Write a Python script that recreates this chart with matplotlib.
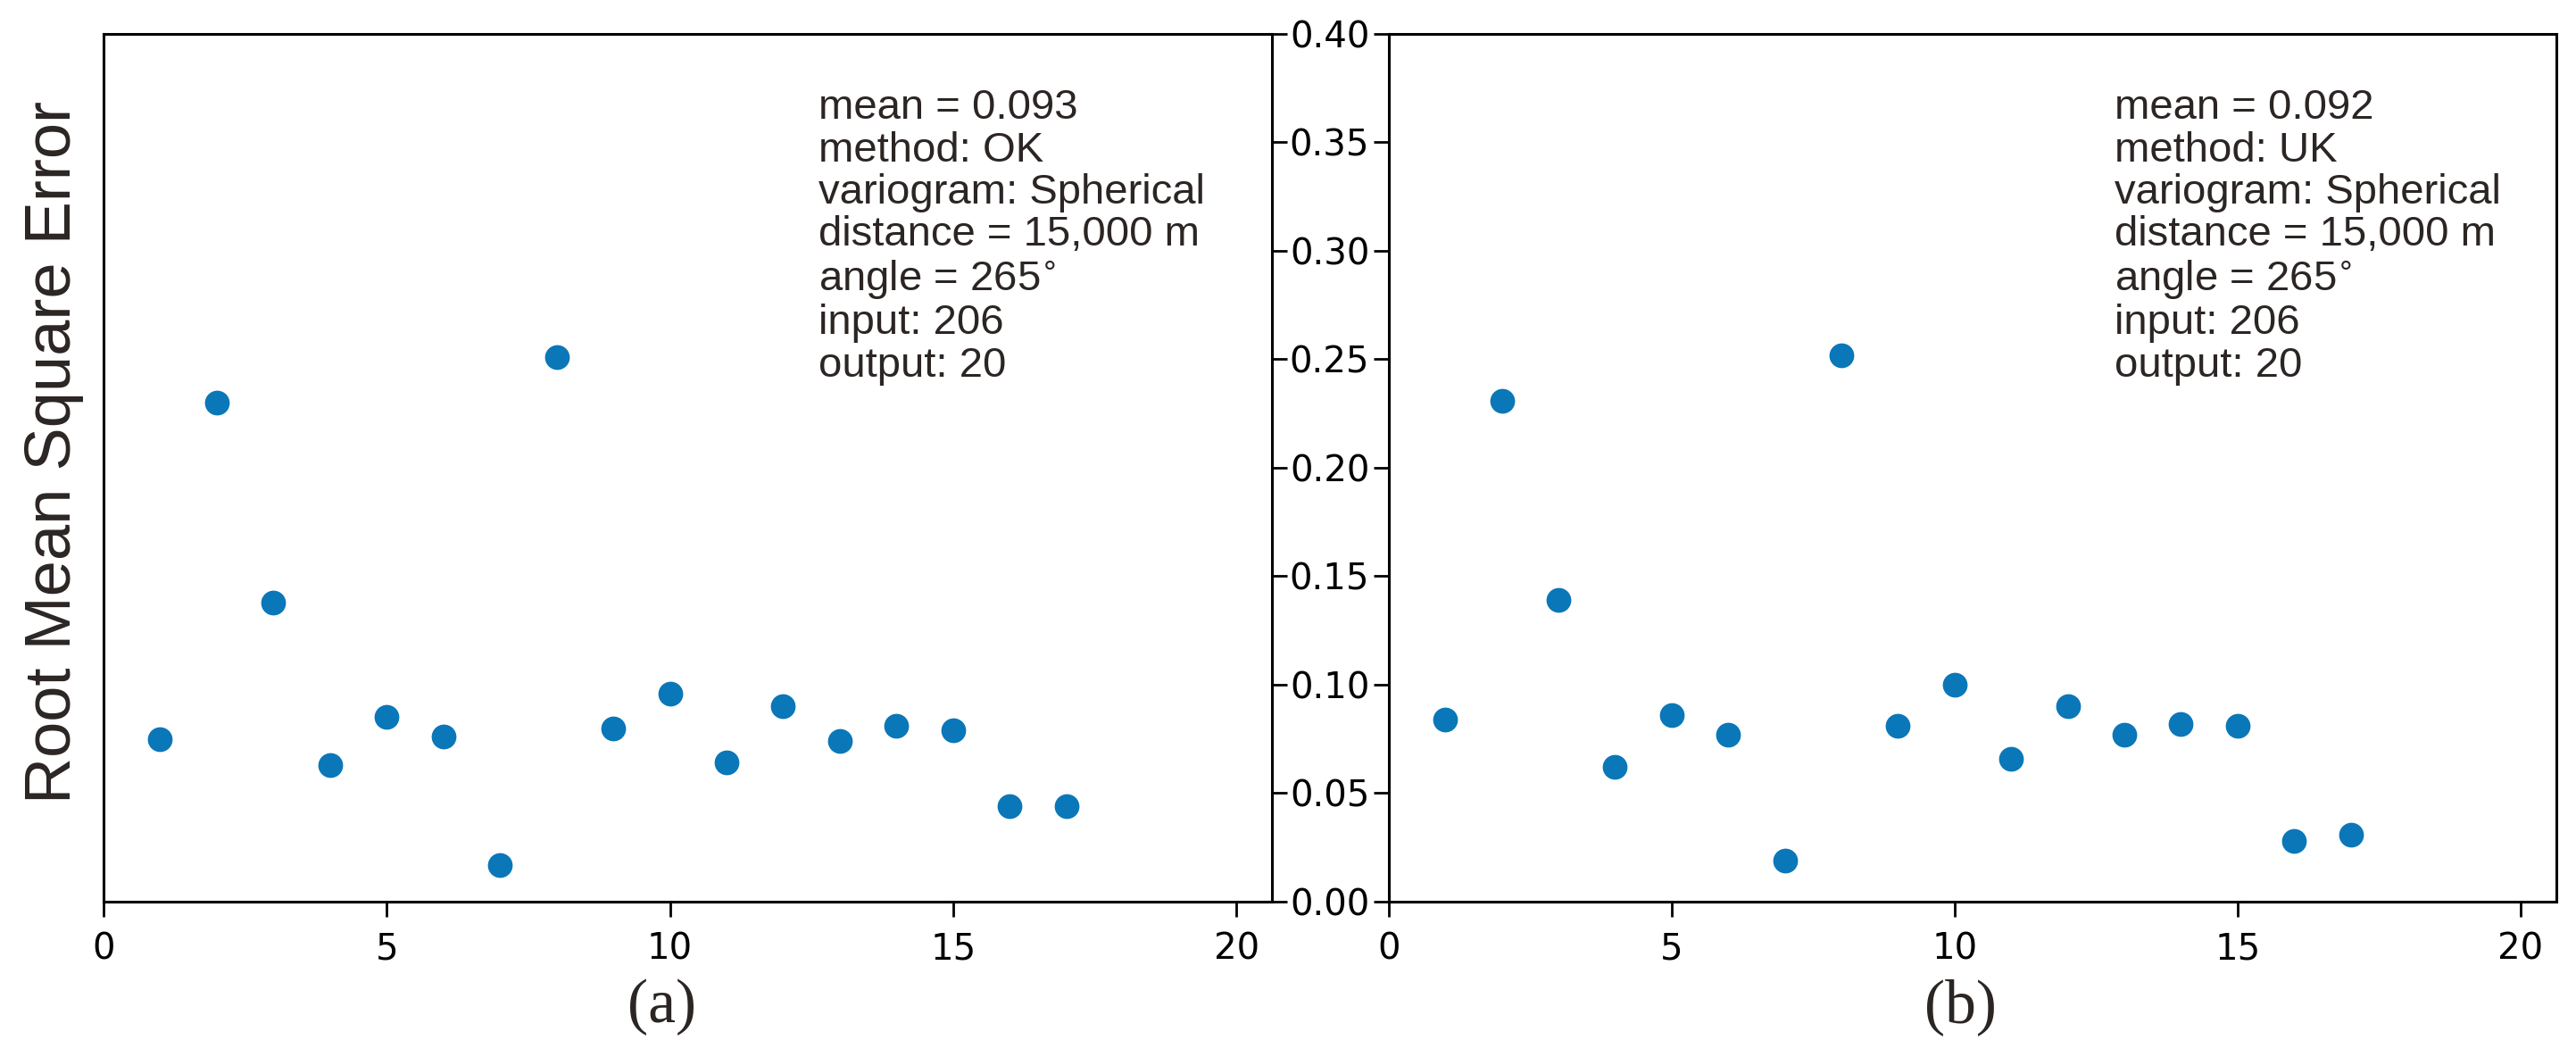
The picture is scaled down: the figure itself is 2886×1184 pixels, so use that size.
import matplotlib
matplotlib.use('Agg')
import matplotlib.pyplot as plt

# ---------------------------- data ----------------------------
sample_ids = [1, 2, 3, 4, 5, 6, 7, 8, 9, 10, 11, 12, 13, 14, 15, 16, 17]

rmse_ok = [0.075, 0.230, 0.138, 0.063, 0.085, 0.076, 0.017, 0.251, 0.080, 0.096,
           0.064, 0.090, 0.074, 0.081, 0.079, 0.044, 0.044]
rmse_uk = [0.084, 0.231, 0.139, 0.062, 0.086, 0.077, 0.019, 0.252, 0.081, 0.100,
           0.066, 0.090, 0.077, 0.082, 0.081, 0.028, 0.031]

info_ok = ['mean = 0.093', 'method: OK', 'variogram: Spherical',
           'distance = 15,000 m', 'angle = 265$^{\\circ}$', 'input: 206', 'output: 20']
info_uk = ['mean = 0.092', 'method: UK', 'variogram: Spherical',
           'distance = 15,000 m', 'angle = 265$^{\\circ}$', 'input: 206', 'output: 20']

x_ticks = [0, 5, 10, 15, 20]
y_ticks = [0.00, 0.05, 0.10, 0.15, 0.20, 0.25, 0.30, 0.35, 0.40]

dot_color = '#0a77b8'
text_color = '#2b2523'
info_font = ['Liberation Sans', 'DejaVu Sans']

fig = plt.figure(figsize=(28.86, 11.84), dpi=100)

ax1 = fig.add_axes([0.0402, 0.147, 0.4536, 0.821])
ax2 = fig.add_axes([0.5391, 0.147, 0.4532, 0.821])

for ax, vals, info in [(ax1, rmse_ok, info_ok), (ax2, rmse_uk, info_uk)]:
    ax.scatter(sample_ids, vals, s=360, color=dot_color, zorder=3)
    ax.set_xlim(0, 20.63)
    ax.set_ylim(0, 0.40)
    ax.set_xticks(x_ticks)
    ax.set_yticks(y_ticks)
    ax.tick_params(labelsize=29, length=12, width=2)
    ax.tick_params(axis='x', pad=12)
    for sp in ax.spines.values():
        sp.set_linewidth(2.2)
    ax.text(0.612 if ax is ax1 else 0.622, 0.937, '\n'.join(info),
            transform=ax.transAxes, va='top', ha='left', fontsize=34,
            family=info_font, color=text_color, linespacing=1.1)

# left panel: ticks on the right spine, no labels
ax1.yaxis.tick_right()
ax1.tick_params(axis='y', labelright=False)
ax2.set_yticklabels(['%.2f' % v for v in y_ticks])

fig.text(0.021, 0.572, 'Root Mean Square Error', rotation=90, ha='center', va='center',
         fontsize=52, family=info_font, color=text_color)

fig.text(0.257, 0.047, '(a)', ha='center', va='center', fontsize=50,
         family=['Liberation Serif', 'DejaVu Serif'], color=text_color)
fig.text(0.761, 0.047, '(b)', ha='center', va='center', fontsize=50,
         family=['Liberation Serif', 'DejaVu Serif'], color=text_color)

plt.savefig('out.png', dpi=100)
